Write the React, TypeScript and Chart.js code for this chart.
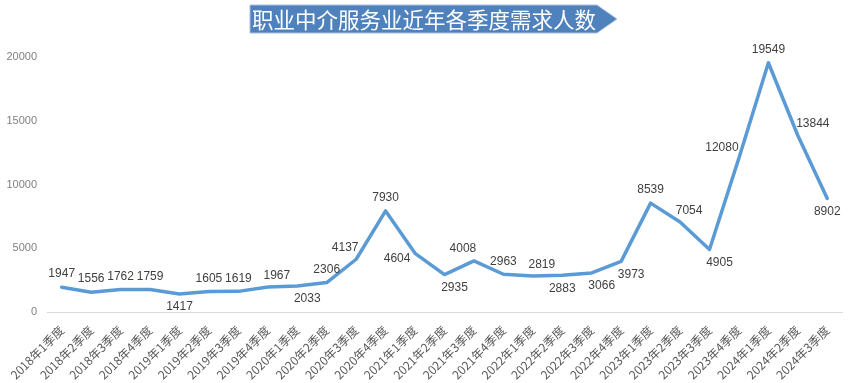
import { useEffect, useRef } from 'react';
import { Chart, registerables } from 'chart.js';

Chart.register(...registerables);

const titleText = '职业中介服务业近年各季度需求人数';

const categories = [
  '2018年1季度', '2018年2季度', '2018年3季度', '2018年4季度',
  '2019年1季度', '2019年2季度', '2019年3季度', '2019年4季度',
  '2020年1季度', '2020年2季度', '2020年3季度', '2020年4季度',
  '2021年1季度', '2021年2季度', '2021年3季度', '2021年4季度',
  '2022年1季度', '2022年2季度', '2022年3季度', '2022年4季度',
  '2023年1季度', '2023年2季度', '2023年3季度', '2023年4季度',
  '2024年1季度', '2024年2季度', '2024年3季度',
];

const demand = [
  1947, 1556, 1762, 1759,
  1417, 1605, 1619, 1967,
  2033, 2306, 4137, 7930,
  4604, 2935, 4008, 2963,
  2819, 2883, 3066, 3973,
  8539, 7054, 4905, 12080,
  19549, 13844, 8902,
];

const yTickValues = [0, 5000, 10000, 15000, 20000];

// where each value label sits relative to its point
const labelPlacement = [
  'top', 'top', 'top', 'top',
  'bottom', 'top', 'top', 'topRight',
  'bottomRight', 'top', 'topLeft', 'top',
  'left', 'bottomRight', 'topLeft', 'top',
  'topRight', 'bottom', 'bottomRight', 'bottomRight',
  'top', 'topRight', 'bottomRight', 'upperLeft',
  'top', 'upperRight', 'bottom',
];

const placementOffset: Record<string, [number, number]> = {
  top: [0, -13],
  bottom: [0, 13],
  topRight: [9, -11],
  topLeft: [-11, -12],
  bottomRight: [10, 13],
  left: [-18, 5],
  upperLeft: [-17, -10],
  upperRight: [15, -12],
};

const valueLabelPlugin = {
  id: 'valueLabels',
  afterDatasetsDraw(chart: any) {
    const ctx = chart.ctx;
    const meta = chart.getDatasetMeta(0);
    ctx.save();
    ctx.font = '12px "Liberation Sans", Arial, sans-serif';
    ctx.fillStyle = '#404040';
    ctx.textAlign = 'center';
    ctx.textBaseline = 'middle';
    meta.data.forEach((pt: any, i: number) => {
      const off = placementOffset[labelPlacement[i]] || [0, -13];
      ctx.fillText(String(demand[i]), pt.x + off[0], pt.y + off[1]);
    });
    ctx.restore();
  },
};

const titleBannerPlugin = {
  id: 'titleBanner',
  afterDraw(chart: any) {
    const ctx = chart.ctx;
    const left = 250;
    const right = 597;
    const tip = 617;
    const top = 5;
    const bottom = 33;
    ctx.save();
    ctx.beginPath();
    ctx.moveTo(left, top);
    ctx.lineTo(right, top);
    ctx.lineTo(tip, (top + bottom) / 2);
    ctx.lineTo(right, bottom);
    ctx.lineTo(left, bottom);
    ctx.closePath();
    ctx.fillStyle = '#4f81bd';
    ctx.fill();
    ctx.lineWidth = 1;
    ctx.strokeStyle = '#a9c1e0';
    ctx.stroke();
    ctx.font = '21.5px "Noto Sans CJK SC", sans-serif';
    ctx.fillStyle = '#ffffff';
    ctx.textAlign = 'left';
    ctx.textBaseline = 'middle';
    ctx.fillText(titleText, left + 2, (top + bottom) / 2 + 1);
    ctx.restore();
  },
};

export default function App() {
  const canvasRef = useRef<HTMLCanvasElement | null>(null);

  useEffect(() => {
    document.body.style.margin = '0';
    const canvas = canvasRef.current;
    if (!canvas) return;
    const chart = new Chart(canvas, {
      type: 'line',
      data: {
        labels: categories,
        datasets: [
          {
            data: demand,
            borderColor: '#5b9bd5',
            borderWidth: 3.5,
            pointRadius: 0,
            pointHoverRadius: 0,
            tension: 0,
            fill: false,
            borderJoinStyle: 'round',
            borderCapStyle: 'round',
          },
        ],
      },
      options: {
        responsive: false,
        animation: false,
        devicePixelRatio: 1,
        layout: { padding: { top: 57, right: 9, left: 0, bottom: 0 } },
        plugins: {
          legend: { display: false },
          tooltip: { enabled: false },
          title: { display: false },
        },
        scales: {
          x: {
            type: 'category',
            offset: true,
            grid: { display: false, drawTicks: false },
            border: { display: true, color: '#d9d9d9', width: 1 },
            ticks: {
              autoSkip: false,
              minRotation: 45,
              maxRotation: 45,
              padding: 11,
              color: '#595959',
              font: { family: '"Noto Sans CJK SC", sans-serif', size: 12 },
            },
            afterFit(scale: any) {
              scale.height = 71;
            },
          },
          y: {
            min: 0,
            max: 20000,
            grid: { display: false, drawTicks: false },
            border: { display: false },
            afterBuildTicks(scale: any) {
              scale.ticks = yTickValues.map((v) => ({ value: v }));
            },
            ticks: {
              padding: 10,
              color: '#7f7f7f',
              font: { family: '"Liberation Sans", Arial, sans-serif', size: 11 },
              callback: (v: any) => String(v),
            },
            afterFit(scale: any) {
              scale.width = 47;
            },
          },
        },
      },
      plugins: [valueLabelPlugin, titleBannerPlugin],
    });
    return () => chart.destroy();
  }, []);

  return (
    <div style={{ position: 'fixed', left: 0, top: 0, width: 851, height: 383, background: '#fff' }}>
      <canvas ref={canvasRef} width={851} height={383} style={{ width: 851, height: 383, display: 'block' }} />
    </div>
  );
}
